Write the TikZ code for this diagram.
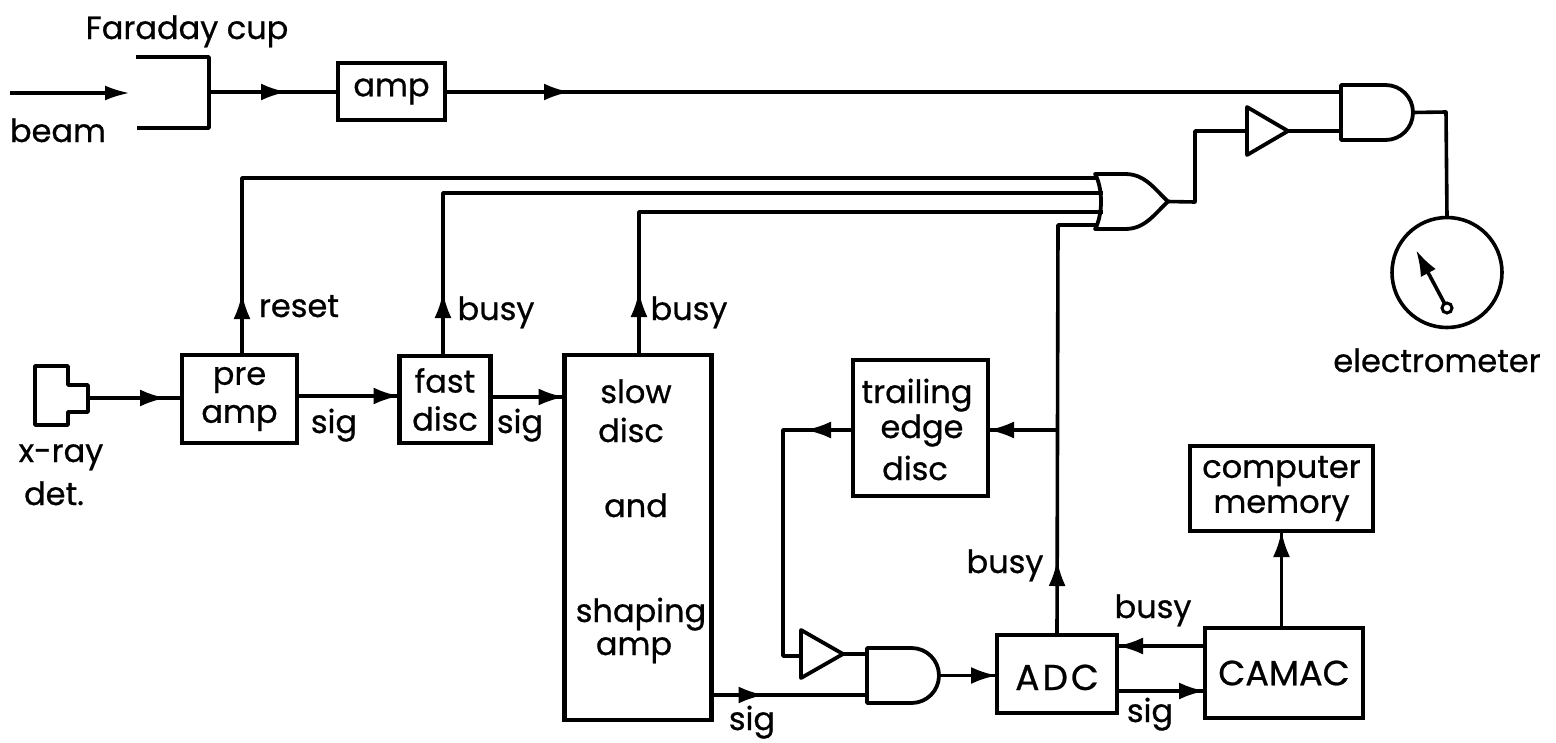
\documentclass[tikz,border=0pt]{standalone}
\usepackage{fontspec}
\setmainfont{Poppins}[FakeBold=0.7]
\usetikzlibrary{arrows.meta,decorations.markings,calc}
\tikzset{
  x=1pt,y=-1pt,
  wire/.style={line width=3.6pt,line join=round},
  tip/.tip={Latex[length=26pt,width=17pt]},
  arrowat/.style={postaction={decorate},decoration={markings,mark=at position #1 with {\arrow{tip}}}},
  blockbox/.style={draw,line width=4.2pt,inner sep=0pt,outer sep=0pt,align=center,font=\fontsize{32}{38}\selectfont},
  gatebox/.style={inner sep=0pt,outer sep=0pt},
  gateline/.style={line width=3.8pt,line join=round},
  lab/.style={anchor=base,inner sep=0pt,align=center,font=\fontsize{32}{38}\selectfont},
}
\begin{document}
\begin{tikzpicture}
\useasboundingbox (0,0) rectangle (1556,742);
% blocks
\node[blockbox,minimum width=107pt,minimum height=57pt] (amp) at (391.5,91.5) {amp};
\node[blockbox,minimum width=115pt,minimum height=88pt] (pre) at (239.5,399) {pre\\amp};
\node[blockbox,minimum width=91pt,minimum height=87pt] (fast) at (445,399.5) {fast\\disc};
\node[blockbox,minimum width=147pt,minimum height=365pt] (slow) at (638,537.5) {};
\node[blockbox,minimum width=135pt,minimum height=136pt] (trail) at (920.5,428) {};
\node[blockbox,minimum width=183pt,minimum height=85pt,font=\fontsize{32}{35}\selectfont] (mem) at (1281.5,488.5) {computer\\memory};
\node[blockbox,minimum width=120pt,minimum height=78pt] (adc) at (1057,674) {};
\node[blockbox,minimum width=158pt,minimum height=90pt,font=\fontsize{35}{38}\selectfont] (camac) at (1284,673) {CAMAC};
% gates
\node[gatebox,minimum width=72pt,minimum height=55pt] (and1) at (1377,112.5) {};
\node[gatebox,minimum width=72pt,minimum height=55pt] (and2) at (903,675.5) {};
\node[gatebox,minimum width=73pt,minimum height=55pt] (or1) at (1131.5,201.5) {};
\node[gatebox,minimum width=41pt,minimum height=48pt] (buf1) at (1267.5,131) {};
\node[gatebox,minimum width=42pt,minimum height=48pt] (buf2) at (822,654) {};
\draw[gateline] (and1.north west) -- ++(44.5,0) arc[start angle=90,end angle=-90,radius=27.5pt] -- (and1.south west) -- cycle;
\draw[gateline] (and2.north west) -- ++(44.5,0) arc[start angle=90,end angle=-90,radius=27.5pt] -- (and2.south west) -- cycle;
\draw[gateline] (or1.north west) -- ++(30,0) .. controls +(20,0) and +(-14,-13) .. (or1.east)
  .. controls +(-14,13) and +(20,0) .. ($(or1.south west)+(30,0)$) -- (or1.south west)
  .. controls +(8,-14) and +(8,14) .. (or1.north west) -- cycle;
\draw[gateline] (buf1.north west) -- (buf1.east) -- (buf1.south west) -- cycle;
\draw[gateline] (buf2.north west) -- (buf2.east) -- (buf2.south west) -- cycle;
% detectors
\coordinate (cupA) at (136,57);
\coordinate (cupB) at (209,57);
\coordinate (cupC) at (209,128);
\coordinate (cupD) at (137,128);
\coordinate (cupOut) at (209,92);
\draw[wire] (cupA) -- (cupB) -- (cupC) -- (cupD);
\coordinate (det) at (88,398);
\draw[gateline] (35,366) -- (68,366) -- (68,385) -- (88,385) -- (88,412) -- (68,412) -- (68,425) -- (35,425) -- cycle;
\node[draw,circle,line width=3.6pt,minimum size=110pt,inner sep=0pt,outer sep=0pt] (meter) at (1447,272.5) {};
\node[draw,circle,line width=3pt,minimum size=10pt,inner sep=0pt,outer sep=0pt] (pivot) at (1447,308) {};
\coordinate (needle) at (1416,250);
\draw[wire,-{Latex[length=26pt,width=17pt]}] (pivot) -- (needle);
% connectors
\coordinate (beamA) at (10,93);
\coordinate (beamB) at (130,93);
\draw[wire,-{Latex[length=25pt,width=15pt]}] (beamA) -- (beamB);
\draw[wire,arrowat=78pt] (cupOut) -- (amp.west |- cupOut);
\draw[wire,arrowat=125pt] (amp.east |- 0,92) -- (and1.west |- 0,92);
\draw[wire] (buf1.east) -- (and1.west |- buf1.east);
\draw[wire] (and1.east) -- (1446,112) -- (meter.north);
\draw[wire] (or1.east) -- (1195,202) -- (1195,131) -- (buf1.west);
\draw[wire,arrowat=78pt] (det) -- (pre.west |- det);
\draw[wire,arrowat=1] (pre.east |- 0,396) -- (fast.west |- 0,396);
\draw[wire,arrowat=1] (fast.east |- 0,397) -- (slow.west |- 0,397);
\draw[wire,arrowat=62pt] (242,355) -- (242,178) -- (1098,178);
\draw[wire,arrowat=64pt] (443,356) -- (443,193) -- (1103,193);
\draw[wire,arrowat=64pt] (639,355) -- (639,212) -- (1103,212);
\draw[wire,arrowat=75pt] (adc.north) -- (1058,225) -- (1098,225);
\draw[wire,arrowat=1] (1058,430) -- (trail.east |- 0,430);
\draw[wire,arrowat=48pt] (trail.west |- 0,430) -- (783,430) -- (783,656) -- (buf2.west |- 0,656);
\draw[wire] (buf2.east) -- (and2.west |- buf2.east);
\draw[wire,arrowat=53pt] (slow.east |- 0,695) -- (and2.west |- 0,695);
\draw[wire,arrowat=1] (and2.east) -- (adc.west |- and2.east);
\draw[wire,arrowat=1] (camac.west |- 0,646) -- (adc.east |- 0,646);
\draw[wire,arrowat=1] (adc.east |- 0,691) -- (camac.west |- 0,691);
\draw[wire,arrowat=1] (mem.south |- camac.north) -- (mem.south);
% labels
\node[lab] (t1) at (187,39) {Faraday cup};
\node[lab] (t2) at (58,142) {beam};
\node[lab] (t3) at (299,317) {reset};
\node[lab] (t4) at (334,433) {sig};
\node[lab] (t5) at (61,462) {x-ray};
\node[lab] (t6) at (54,505) {det.};
\node[lab] (t7) at (496,320) {busy};
\node[lab] (t8) at (689,320) {busy};
\node[lab] (t9) at (520,433) {sig};
\node[lab] (t10) at (636,403) {slow};
\node[lab] (t11) at (631,442) {disc};
\node[lab] (t12) at (636,517) {and};
\node[lab] (t13) at (641,622) {shaping};
\node[lab] (t14) at (634,655) {amp};
\node[lab] (t15) at (752,730) {sig};
\node[lab] (t16) at (917,403) {trailing};
\node[lab] (t17) at (922,438) {edge};
\node[lab] (t18) at (915,480) {disc};
\node[lab,font=\fontsize{36}{38}\selectfont] (t19) at (1057,690) {A\kern3pt D\kern3pt C};
\node[lab] (t20) at (1005,573) {busy};
\node[lab] (t21) at (1153,618) {busy};
\node[lab] (t22) at (1150,722) {sig};
\node[lab] (t23) at (1437,372) {electrometer};
\end{tikzpicture}
\end{document}
